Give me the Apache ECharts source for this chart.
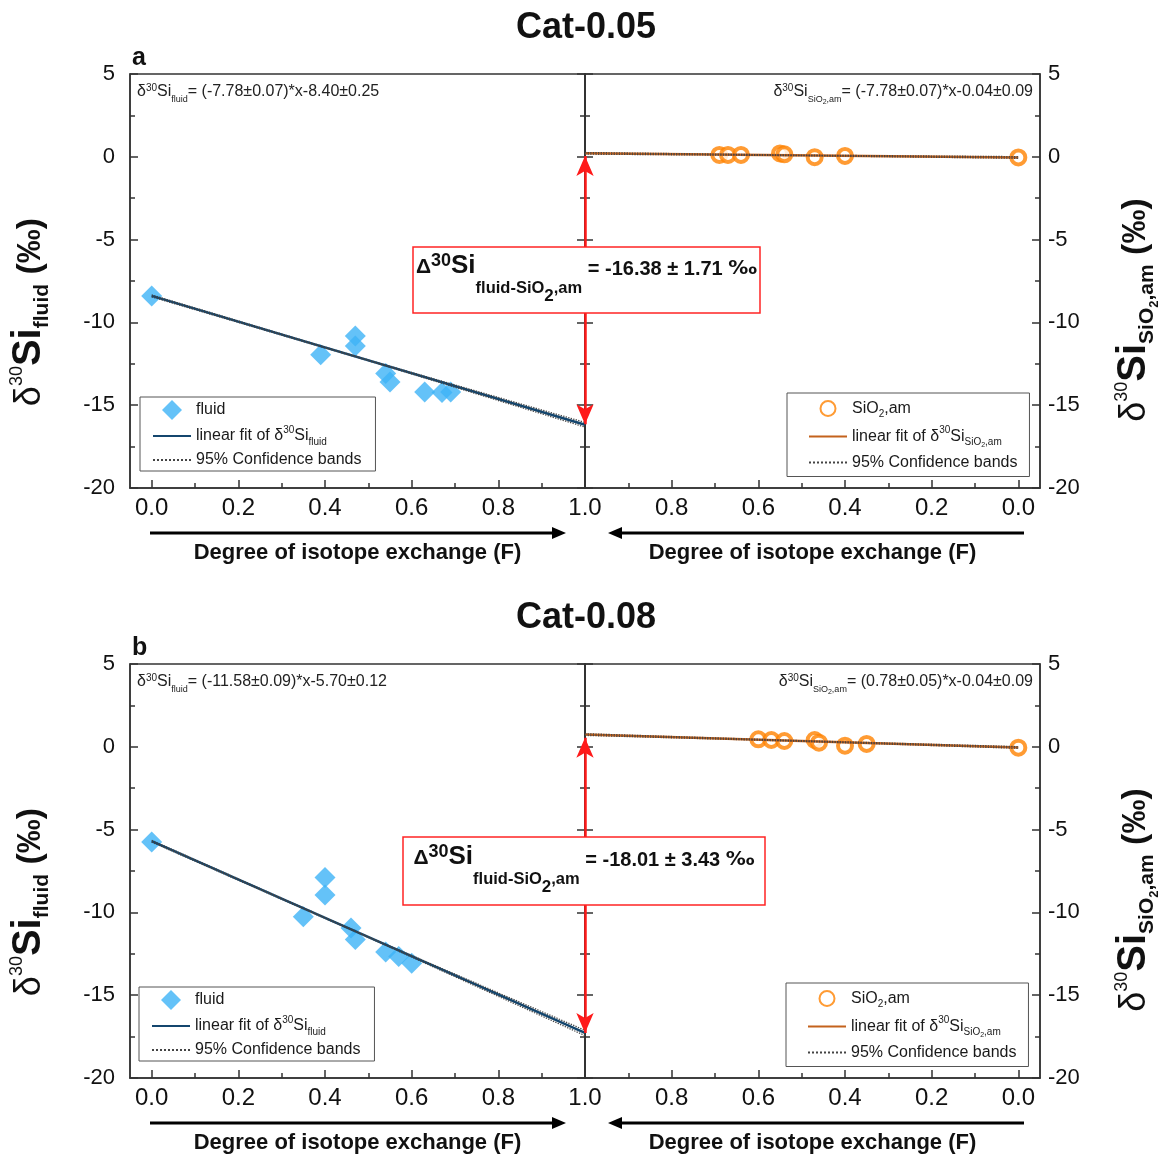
<!DOCTYPE html>
<html>
<head>
<meta charset="utf-8">
<script src="https://cdn.jsdelivr.net/npm/echarts@6/dist/echarts.min.js"></script>
<style>
  html, body { margin: 0; padding: 0; background: #fff; }
  #chart { width: 1172px; height: 1159px; }
</style>
</head>
<body>
<div id="chart"></div>
<script>
var FONT = '"Liberation Sans", Arial, Helvetica, sans-serif';
var FRAME = '#333';

// ---------- panel a : Cat-0.05 ----------
var fluidF_a = [0, 0.39, 0.47, 0.47, 0.54, 0.55, 0.63, 0.67, 0.69];
var fluidD_a = [-8.40, -11.95, -10.82, -11.43, -13.08, -13.60, -14.20, -14.24, -14.20];
var sio2F_a = [0.69, 0.67, 0.64, 0.55, 0.54, 0.47, 0.40, 0.0];
var sio2D_a = [0.11, 0.11, 0.11, 0.20, 0.15, -0.02, 0.05, -0.04];
var fluidFit_a = [[0, -8.40], [1, -16.18]];
var fluidBandUp_a = [[0, -8.34], [0.5, -12.27], [1, -16.04]];
var fluidBandLo_a = [[0, -8.46], [0.5, -12.31], [1, -16.32]];
var sio2Fit_a = [[1, 0.21], [0, -0.04]];
var sio2BandUp_a = [[1, 0.26], [0.5, 0.10], [0, 0.01]];
var sio2BandLo_a = [[1, 0.16], [0.5, 0.07], [0, -0.09]];
var arrow_a = [0.05, -16.15];
var eqFluid_a = '= (-7.78±0.07)*x-8.40±0.25';
var eqSio2_a = '= (-7.78±0.07)*x-0.04±0.09';
var delta_a = ' = -16.38 ± 1.71 ';

// ---------- panel b : Cat-0.08 ----------
var fluidF_b = [0, 0.35, 0.40, 0.40, 0.46, 0.47, 0.54, 0.57, 0.60];
var fluidD_b = [-5.75, -10.26, -7.90, -8.95, -10.94, -11.63, -12.39, -12.67, -13.07];
var sio2F_b = [0.60, 0.57, 0.54, 0.47, 0.46, 0.40, 0.35, 0.0];
var sio2D_b = [0.45, 0.41, 0.35, 0.41, 0.25, 0.07, 0.17, -0.05];
var fluidFit_b = [[0, -5.70], [1, -17.28]];
var fluidBandUp_b = [[0, -5.65], [0.5, -11.47], [1, -17.12]];
var fluidBandLo_b = [[0, -5.75], [0.5, -11.51], [1, -17.44]];
var sio2Fit_b = [[1, 0.74], [0, -0.04]];
var sio2BandUp_b = [[1, 0.79], [0.5, 0.37], [0, 0.01]];
var sio2BandLo_b = [[1, 0.69], [0.5, 0.33], [0, -0.09]];
var arrow_b = [0.55, -17.28];
var eqFluid_b = '= (-11.58±0.09)*x-5.70±0.12';
var eqSio2_b = '= (0.78±0.05)*x-0.04±0.09';
var delta_b = ' = -18.01 ± 3.43 ';

var titles = ['Cat-0.05', 'Cat-0.08'];
var letters = ['a', 'b'];
var xTicksMajor = [0, 0.2, 0.4, 0.6, 0.8, 1.0];
var xTicksMinor = [0.1, 0.3, 0.5, 0.7, 0.9];
var xLabelsRight = [0, 0.2, 0.4, 0.6, 0.8];
var xTitle = 'Degree of isotope exchange (F)';

function zip(a, b) { return a.map(function (v, i) { return [v, b[i]]; }); }

var grids = [], xAxes = [], yAxes = [], series = [], graphics = [];

var tickStyle = { color: FRAME, width: 1.5 };
var labelBase = { color: '#111', fontFamily: FONT };

function xAxesFor(gi, inverse, labels) {
  xAxes.push({
    gridIndex: gi, type: 'value', min: -0.05, max: 1, inverse: inverse, position: 'bottom',
    axisLine: { onZero: false, lineStyle: tickStyle }, splitLine: { show: false },
    axisTick: { inside: true, length: 8, customValues: xTicksMajor, lineStyle: tickStyle },
    axisLabel: Object.assign({ customValues: labels, fontSize: 24, margin: 8,
      formatter: function (v) { return v.toFixed(1); } }, labelBase),
    name: xTitle, nameLocation: 'middle', nameGap: 54,
    nameTextStyle: { fontSize: 22, fontWeight: 'bold', fontFamily: FONT, color: '#111' }
  });
  xAxes.push({
    gridIndex: gi, type: 'value', min: -0.05, max: 1, inverse: inverse, position: 'bottom',
    axisLine: { show: false, onZero: false }, splitLine: { show: false }, axisLabel: { show: false },
    axisTick: { inside: true, length: 5, customValues: xTicksMinor, lineStyle: tickStyle }
  });
}

function yAxisFor(gi, pos, showLabel, margin) {
  yAxes.push({
    gridIndex: gi, type: 'value', min: -20, max: 5, interval: 5, position: pos,
    axisLine: { onZero: false, lineStyle: tickStyle }, splitLine: { show: false },
    axisTick: { inside: true, length: 8, lineStyle: tickStyle },
    minorTick: { show: true, splitNumber: 2, length: 5, lineStyle: tickStyle },
    axisLabel: Object.assign({ show: showLabel, fontSize: 22, margin: margin }, labelBase)
  });
}

function bandLine(name, data, xi, yi) {
  return {
    name: name, type: 'line', xAxisIndex: xi, yAxisIndex: yi, data: data,
    symbol: 'none', showSymbol: false, z: 4,
    itemStyle: { color: '#444' },
    lineStyle: { color: '#444', width: 1.3, type: 'dotted' }
  };
}

var eqRich = {
  m: { fontSize: 16, padding: [4, 0, 6, 0], verticalAlign: 'top', fill: '#222', fontFamily: FONT },
  sp: { fontSize: 10, padding: [3, 0, 13, 0], verticalAlign: 'top', fill: '#222', fontFamily: FONT },
  sb: { fontSize: 9, padding: [15, 0, 2, 0], verticalAlign: 'top', fill: '#222', fontFamily: FONT },
  sb2: { fontSize: 7, padding: [19, 0, 0, 0], verticalAlign: 'top', fill: '#222', fontFamily: FONT }
};
var boxRich = {
  D: { fontSize: 21, fontWeight: 'bold', padding: [10, 0, 35, 0], verticalAlign: 'top', fill: '#111', fontFamily: FONT },
  sp: { fontSize: 18, fontWeight: 'bold', padding: [5, 0, 43, 0], verticalAlign: 'top', fill: '#111', fontFamily: FONT },
  Si: { fontSize: 26, fontWeight: 'bold', padding: [6, 0, 34, 0], verticalAlign: 'top', fill: '#111', fontFamily: FONT },
  sb: { fontSize: 16.5, fontWeight: 'bold', padding: [33, 0, 16, 0], verticalAlign: 'top', fill: '#111', fontFamily: FONT },
  sb2: { fontSize: 17, fontWeight: 'bold', padding: [41, 0, 8, 0], verticalAlign: 'top', fill: '#111', fontFamily: FONT },
  v: { fontSize: 20, fontWeight: 'bold', padding: [12, 0, 34, 0], verticalAlign: 'top', fill: '#111', fontFamily: FONT },
  pm: { fontSize: 20, fontWeight: 'bold', padding: [12, 0, 34, 0], verticalAlign: 'top', fill: '#111', fontFamily: '"DejaVu Sans", sans-serif' }
};
var ytRich = {
  d: { fontSize: 36, padding: [7, 0, 17, 0], verticalAlign: 'top', fill: '#111', fontFamily: FONT },
  sp: { fontSize: 18, padding: [3, 0, 39, 0], verticalAlign: 'top', fill: '#111', fontFamily: FONT },
  Si: { fontSize: 40, fontWeight: 'bold', padding: [4, 0, 16, 0], verticalAlign: 'top', fill: '#111', fontFamily: FONT },
  sb: { fontSize: 21, fontWeight: 'bold', padding: [27, 0, 12, 0], verticalAlign: 'top', fill: '#111', fontFamily: FONT },
  sb2: { fontSize: 13, fontWeight: 'bold', padding: [38, 0, 9, 0], verticalAlign: 'top', fill: '#111', fontFamily: FONT },
  u: { fontSize: 34, fontWeight: 'bold', padding: [9, 0, 17, 0], verticalAlign: 'top', fill: '#111', fontFamily: FONT }
};

function arrowH(x1, x2, y) {
  var dir = x2 > x1 ? 1 : -1;
  graphics.push({ type: 'line', shape: { x1: x1, y1: y, x2: x2 - dir * 10, y2: y },
    style: { stroke: '#000', lineWidth: 3 }, z: 20 });
  graphics.push({ type: 'polygon', shape: { points: [[x2, y], [x2 - dir * 14, y - 6], [x2 - dir * 14, y + 6]] },
    style: { fill: '#000' }, z: 20 });
}

function panel(k, dy, P) {
  var g = grids.length, xi = xAxes.length, yi = yAxes.length;
  var gridStyle = { show: true, borderColor: FRAME, borderWidth: 1.5, backgroundColor: 'transparent' };
  grids.push(Object.assign({ left: 130, top: 74 + dy, width: 455, height: 414 }, gridStyle));
  grids.push(Object.assign({ left: 585, top: 74 + dy, width: 455, height: 414 }, gridStyle));

  xAxesFor(g, false, xTicksMajor);        // xi, xi+1
  xAxesFor(g + 1, true, xLabelsRight);    // xi+2, xi+3
  yAxisFor(g, 'left', true, 15);          // yi
  yAxisFor(g, 'right', false, 8);         // yi+1
  yAxisFor(g + 1, 'left', false, 8);      // yi+2
  yAxisFor(g + 1, 'right', true, 8);      // yi+3

  series.push({
    name: 'fluid', type: 'scatter', xAxisIndex: xi, yAxisIndex: yi,
    data: zip(P.fluidF, P.fluidD), symbol: 'diamond', symbolSize: 21, z: 2,
    itemStyle: { color: '#3DB3F6' }
  });
  series.push({
    name: 'fitF', type: 'line', xAxisIndex: xi, yAxisIndex: yi, data: P.fluidFit,
    symbol: 'none', showSymbol: false, z: 3, itemStyle: { color: '#14466E' },
    lineStyle: { color: '#14466E', width: 2.5 }
  });
  series.push(bandLine('bandF', P.fluidBandUp, xi, yi));
  series.push(bandLine('bandF', P.fluidBandLo, xi, yi));

  series.push({
    name: 'sio2', type: 'scatter', xAxisIndex: xi + 2, yAxisIndex: yi + 3,
    data: zip(P.sio2F, P.sio2D), symbol: 'circle', symbolSize: 14, z: 2,
    itemStyle: { color: '#fff', borderColor: '#FF8200', borderWidth: 4 }
  });
  series.push({
    name: 'fitS', type: 'line', xAxisIndex: xi + 2, yAxisIndex: yi + 3, data: P.sio2Fit,
    symbol: 'none', showSymbol: false, z: 3, clip: false, itemStyle: { color: '#C4621C' },
    lineStyle: { color: '#C4621C', width: 2.5 },
    markLine: {
      silent: true, symbol: ['arrow', 'arrow'], symbolSize: [13, 20], label: { show: false },
      lineStyle: { color: '#FF1A1A', width: 2.5, type: 'solid' },
      emphasis: { disabled: true },
      data: [[{ coord: [1, P.arrow[0]] }, { coord: [1, P.arrow[1]] }]]
    }
  });
  series.push(bandLine('bandS', P.sio2BandUp, xi + 2, yi + 3));
  series.push(bandLine('bandS', P.sio2BandLo, xi + 2, yi + 3));

  // panel letter
  graphics.push({ type: 'text', x: 132, y: 58 + dy, z: 20,
    style: { text: letters[k], fontSize: 25, fontWeight: 'bold', fontFamily: FONT, fill: '#111',
      align: 'left', verticalAlign: 'middle' } });
  // fit equations
  graphics.push({ type: 'text', x: 137, y: 80 + dy, z: 20,
    style: { text: '{m|δ}{sp|30}{m|Si}{sb|fluid}{m|' + P.eqFluid + '}', rich: eqRich,
      align: 'left', verticalAlign: 'top' } });
  graphics.push({ type: 'text', x: 1033, y: 80 + dy, z: 20,
    style: { text: '{m|δ}{sp|30}{m|Si}{sb|SiO}{sb2|2}{sb|,am}{m|' + P.eqSio2 + '}', rich: eqRich,
      align: 'right', verticalAlign: 'top' } });
  // delta box
  graphics.push({ type: 'rect', z: 30, shape: { x: P.box[0], y: P.box[1] + dy, width: P.box[2], height: P.box[3] },
    style: { fill: '#fff', stroke: '#FF2424', lineWidth: 1.5 } });
  graphics.push({ type: 'text', z: 31, x: P.box[0] + P.box[2] / 2, y: P.box[1] + dy + (P.box[3] - 66) / 2,
    style: { text: '{D|Δ}{sp|30}{Si|Si}{sb|fluid-SiO}{sb2|2}{sb|,am}{v|' + P.delta + '}{pm|‰}', rich: boxRich,
      align: 'center', verticalAlign: 'top' } });
  // y titles
  graphics.push({ type: 'text', x: 5, y: 312 + dy, rotation: Math.PI / 2, z: 20,
    style: { text: '{d|δ}{sp|30}{Si|Si}{sb|fluid}{u| (‰)}', rich: ytRich, align: 'center', verticalAlign: 'top' } });
  graphics.push({ type: 'text', x: 1110, y: 310 + dy, rotation: Math.PI / 2, z: 20,
    style: { text: '{d|δ}{sp|30}{Si|Si}{sb|SiO}{sb2|2}{sb|,am}{u| (‰)}', rich: ytRich, align: 'center', verticalAlign: 'top' } });
  // direction arrows under the axes
  arrowH(150, 566, 533 + dy);
  arrowH(1024, 608, 533 + dy);
}

panel(0, 0, {
  fluidF: fluidF_a, fluidD: fluidD_a, sio2F: sio2F_a, sio2D: sio2D_a,
  fluidFit: fluidFit_a, fluidBandUp: fluidBandUp_a, fluidBandLo: fluidBandLo_a,
  sio2Fit: sio2Fit_a, sio2BandUp: sio2BandUp_a, sio2BandLo: sio2BandLo_a,
  arrow: arrow_a, eqFluid: eqFluid_a, eqSio2: eqSio2_a, delta: delta_a,
  box: [413, 247, 347, 66]
});
panel(1, 590, {
  fluidF: fluidF_b, fluidD: fluidD_b, sio2F: sio2F_b, sio2D: sio2D_b,
  fluidFit: fluidFit_b, fluidBandUp: fluidBandUp_b, fluidBandLo: fluidBandLo_b,
  sio2Fit: sio2Fit_b, sio2BandUp: sio2BandUp_b, sio2BandLo: sio2BandLo_b,
  arrow: arrow_b, eqFluid: eqFluid_b, eqSio2: eqSio2_b, delta: delta_b,
  box: [403, 247, 362, 68]
});

var legendRich = {
  m: { fontSize: 16, padding: [4, 0, 4, 0], verticalAlign: 'top', color: '#1a1a1a', fontFamily: FONT },
  sp: { fontSize: 10, padding: [1, 0, 13, 0], verticalAlign: 'top', color: '#1a1a1a', fontFamily: FONT },
  sb: { fontSize: 10, padding: [13, 0, 1, 0], verticalAlign: 'top', color: '#1a1a1a', fontFamily: FONT },
  sb2: { fontSize: 7, padding: [17, 0, 0, 0], verticalAlign: 'top', color: '#1a1a1a', fontFamily: FONT }
};
var legendText = {
  fluid: '{m|fluid}',
  fitF: '{m|linear fit of δ}{sp|30}{m|Si}{sb|fluid}',
  bandF: '{m|95% Confidence bands}',
  sio2: '{m|SiO}{sb|2}{m|,am}',
  fitS: '{m|linear fit of δ}{sp|30}{m|Si}{sb|SiO}{sb2|2}{sb|,am}',
  bandS: '{m|95% Confidence bands}'
};
var noSymbol = { color: 'rgba(0,0,0,0)', borderWidth: 0, opacity: 0 };
var diamondIcon = 'path://M10,0L20,10L10,20L0,10Z';
function legendBox(names, left, top, iconH, gap, padding, firstIcon) {
  var first = { name: names[0] };
  if (firstIcon) first.icon = firstIcon;
  return {
    data: [
      first,
      { name: names[1], itemStyle: noSymbol },
      { name: names[2], itemStyle: noSymbol }
    ],
    left: left, top: top, orient: 'vertical', selectedMode: false, symbolKeepAspect: true,
    itemWidth: 38, itemHeight: iconH, itemGap: gap, padding: padding,
    borderColor: '#555', borderWidth: 1, backgroundColor: 'rgba(255,255,255,0)',
    formatter: function (n) { return legendText[n]; },
    textStyle: { fontFamily: FONT, fontSize: 16, color: '#1a1a1a', rich: legendRich }
  };
}

var chart = echarts.init(document.getElementById('chart'), null, { renderer: 'canvas' });
chart.setOption({
  backgroundColor: '#fff',
  animation: false,
  title: [
    { text: titles[0], left: 'center', top: 5, textStyle: { fontSize: 36, fontWeight: 'bold', fontFamily: FONT, color: '#111' } },
    { text: titles[1], left: 'center', top: 595, textStyle: { fontSize: 36, fontWeight: 'bold', fontFamily: FONT, color: '#111' } }
  ],
  legend: [
    legendBox(['fluid', 'fitF', 'bandF'], 140, 397, 20, 5, [3, 14, 3, 12], diamondIcon),
    legendBox(['sio2', 'fitS', 'bandS'], 787, 393, 15, 6, [7, 12, 6, 21]),
    legendBox(['fluid', 'fitF', 'bandF'], 139, 987, 20, 5, [3, 14, 3, 12], diamondIcon),
    legendBox(['sio2', 'fitS', 'bandS'], 786, 983, 15, 6, [7, 12, 6, 21])
  ],
  grid: grids,
  xAxis: xAxes,
  yAxis: yAxes,
  series: series,
  graphic: graphics
});
</script>
</body>
</html>
